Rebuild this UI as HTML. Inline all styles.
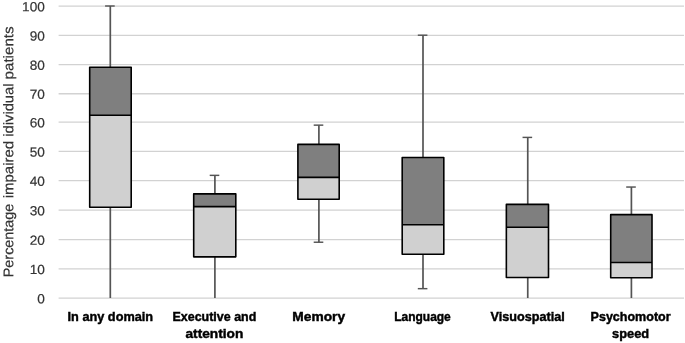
<!DOCTYPE html>
<html lang="en"><head><meta charset="utf-8"><title>Percentage impaired individual patients</title>
<style>html,body{margin:0;padding:0;background:#fff;}body{width:685px;height:343px;overflow:hidden;}svg{display:block;}text{font-family:"Liberation Sans",Arial,sans-serif;}.tick{font-size:13.2px;fill:#333;stroke:#333;stroke-width:0.2px;}.ttl{font-size:14px;fill:#333;stroke:#333;stroke-width:0.2px;}.cat{font-size:13.3px;font-weight:bold;fill:#000;stroke:#000;stroke-width:0.45px;}</style></head><body>
<svg width="685" height="343" viewBox="0 0 685 343">
<rect width="685" height="343" fill="#ffffff"/>
<g stroke="#d2d2d2" stroke-width="1.3">
<line x1="58.6" y1="298.1" x2="684" y2="298.1"/>
<line x1="58.6" y1="268.95" x2="684" y2="268.95"/>
<line x1="58.6" y1="239.55" x2="684" y2="239.55"/>
<line x1="58.6" y1="210.1" x2="684" y2="210.1"/>
<line x1="58.6" y1="180.7" x2="684" y2="180.7"/>
<line x1="58.6" y1="151.45" x2="684" y2="151.45"/>
<line x1="58.6" y1="122.2" x2="684" y2="122.2"/>
<line x1="58.6" y1="93.75" x2="684" y2="93.75"/>
<line x1="58.6" y1="64.6" x2="684" y2="64.6"/>
<line x1="58.6" y1="35.45" x2="684" y2="35.45"/>
<line x1="58.6" y1="6.05" x2="684" y2="6.05"/>
</g>
<g class="tick">
<text x="37.27" y="303.2" transform="rotate(0.03 37.27 303.2)" textLength="7.58" lengthAdjust="spacingAndGlyphs">0</text>
<text x="29.69" y="274.05" transform="rotate(0.03 29.69 274.05)" textLength="15.16" lengthAdjust="spacingAndGlyphs">10</text>
<text x="29.69" y="244.65" transform="rotate(0.03 29.69 244.65)" textLength="15.16" lengthAdjust="spacingAndGlyphs">20</text>
<text x="29.69" y="215.2" transform="rotate(0.03 29.69 215.2)" textLength="15.16" lengthAdjust="spacingAndGlyphs">30</text>
<text x="29.69" y="185.8" transform="rotate(0.03 29.69 185.8)" textLength="15.16" lengthAdjust="spacingAndGlyphs">40</text>
<text x="29.69" y="156.55" transform="rotate(0.03 29.69 156.55)" textLength="15.16" lengthAdjust="spacingAndGlyphs">50</text>
<text x="29.69" y="127.3" transform="rotate(0.03 29.69 127.3)" textLength="15.16" lengthAdjust="spacingAndGlyphs">60</text>
<text x="29.69" y="98.85" transform="rotate(0.03 29.69 98.85)" textLength="15.16" lengthAdjust="spacingAndGlyphs">70</text>
<text x="29.69" y="69.7" transform="rotate(0.03 29.69 69.7)" textLength="15.16" lengthAdjust="spacingAndGlyphs">80</text>
<text x="29.69" y="40.55" transform="rotate(0.03 29.69 40.55)" textLength="15.16" lengthAdjust="spacingAndGlyphs">90</text>
<text x="22.11" y="11.15" transform="rotate(0.03 22.11 11.15)" textLength="22.74" lengthAdjust="spacingAndGlyphs">100</text>
</g>
<text class="ttl" transform="translate(13.2 276.2) rotate(-89.97)"><tspan x="-1.05" textLength="73.6" lengthAdjust="spacingAndGlyphs">Percentage</tspan> <tspan x="77.95" textLength="57.45" lengthAdjust="spacingAndGlyphs">impaired</tspan> <tspan x="139.55" textLength="53.1" lengthAdjust="spacingAndGlyphs">idividual</tspan> <tspan x="196.75" textLength="53.05" lengthAdjust="spacingAndGlyphs">patients</tspan></text>
<g>
<g stroke="#545454" stroke-width="1.7" fill="none">
<line x1="110.3" y1="6" x2="110.3" y2="67.32"/>
<line x1="110.3" y1="207.19" x2="110.3" y2="298"/>
<line stroke-width="1.45" x1="105.1" y1="6" x2="114.7" y2="6"/>
</g>
<rect x="89.7" y="67.32" width="41.5" height="47.89" fill="#7f7f7f"/>
<rect x="89.7" y="115.21" width="41.5" height="91.98" fill="#d0d0d0"/>
<line x1="89.7" y1="115.21" x2="131.2" y2="115.21" stroke="#000" stroke-width="1.6"/>
<rect x="89.7" y="67.32" width="41.5" height="139.87" fill="none" stroke="#000" stroke-width="1.6" stroke-linejoin="round"/>
</g>
<g>
<g stroke="#545454" stroke-width="1.7" fill="none">
<line x1="214.9" y1="175.36" x2="214.9" y2="193.9"/>
<line x1="214.9" y1="256.83" x2="214.9" y2="298"/>
<line stroke-width="1.45" x1="209.7" y1="175.36" x2="219.3" y2="175.36"/>
</g>
<rect x="193.7" y="193.9" width="42.1" height="12.7" fill="#7f7f7f"/>
<rect x="193.7" y="206.6" width="42.1" height="50.22" fill="#d0d0d0"/>
<line x1="193.7" y1="206.6" x2="235.8" y2="206.6" stroke="#000" stroke-width="1.6"/>
<rect x="193.7" y="193.9" width="42.1" height="62.93" fill="none" stroke="#000" stroke-width="1.6" stroke-linejoin="round"/>
</g>
<g>
<g stroke="#545454" stroke-width="1.7" fill="none">
<line x1="318.9" y1="125.14" x2="318.9" y2="144.41"/>
<line x1="318.9" y1="199.3" x2="318.9" y2="242.23"/>
<line stroke-width="1.45" x1="313.7" y1="125.14" x2="323.3" y2="125.14"/>
<line stroke-width="1.45" x1="313.7" y1="242.23" x2="323.3" y2="242.23"/>
</g>
<rect x="297.9" y="144.41" width="41.3" height="33" fill="#7f7f7f"/>
<rect x="297.9" y="177.4" width="41.3" height="21.9" fill="#d0d0d0"/>
<line x1="297.9" y1="177.4" x2="339.2" y2="177.4" stroke="#000" stroke-width="1.6"/>
<rect x="297.9" y="144.41" width="41.3" height="54.9" fill="none" stroke="#000" stroke-width="1.6" stroke-linejoin="round"/>
</g>
<g>
<g stroke="#545454" stroke-width="1.7" fill="none">
<line x1="423" y1="35.2" x2="423" y2="157.55"/>
<line x1="423" y1="254.2" x2="423" y2="288.66"/>
<line stroke-width="1.45" x1="417.8" y1="35.2" x2="427.4" y2="35.2"/>
<line stroke-width="1.45" x1="417.8" y1="288.66" x2="427.4" y2="288.66"/>
</g>
<rect x="402.2" y="157.55" width="41.6" height="67.16" fill="#7f7f7f"/>
<rect x="402.2" y="224.71" width="41.6" height="29.49" fill="#d0d0d0"/>
<line x1="402.2" y1="224.71" x2="443.8" y2="224.71" stroke="#000" stroke-width="1.6"/>
<rect x="402.2" y="157.55" width="41.6" height="96.65" fill="none" stroke="#000" stroke-width="1.6" stroke-linejoin="round"/>
</g>
<g>
<g stroke="#545454" stroke-width="1.7" fill="none">
<line x1="527.75" y1="137.4" x2="527.75" y2="204.41"/>
<line x1="527.75" y1="277.56" x2="527.75" y2="298"/>
<line stroke-width="1.45" x1="522.55" y1="137.4" x2="532.15" y2="137.4"/>
</g>
<rect x="506.35" y="204.41" width="42.15" height="22.78" fill="#7f7f7f"/>
<rect x="506.35" y="227.19" width="42.15" height="50.37" fill="#d0d0d0"/>
<line x1="506.35" y1="227.19" x2="548.5" y2="227.19" stroke="#000" stroke-width="1.6"/>
<rect x="506.35" y="204.41" width="42.15" height="73.15" fill="none" stroke="#000" stroke-width="1.6" stroke-linejoin="round"/>
</g>
<g>
<g stroke="#545454" stroke-width="1.7" fill="none">
<line x1="631.4" y1="187.04" x2="631.4" y2="214.63"/>
<line x1="631.4" y1="277.71" x2="631.4" y2="298"/>
<line stroke-width="1.45" x1="626.2" y1="187.04" x2="635.8" y2="187.04"/>
</g>
<rect x="610.7" y="214.63" width="41.3" height="47.89" fill="#7f7f7f"/>
<rect x="610.7" y="262.52" width="41.3" height="15.18" fill="#d0d0d0"/>
<line x1="610.7" y1="262.52" x2="652" y2="262.52" stroke="#000" stroke-width="1.6"/>
<rect x="610.7" y="214.63" width="41.3" height="63.07" fill="none" stroke="#000" stroke-width="1.6" stroke-linejoin="round"/>
</g>
<g class="cat">
<text x="67.55" y="321.35" textLength="85.6" lengthAdjust="spacingAndGlyphs">In any domain</text>
<text x="172.5" y="321.35" textLength="83.8" lengthAdjust="spacingAndGlyphs">Executive and</text>
<text x="185.5" y="338.45" textLength="57.8" lengthAdjust="spacingAndGlyphs">attention</text>
<text x="292.3" y="321.35" textLength="52.8" lengthAdjust="spacingAndGlyphs">Memory</text>
<text x="394.2" y="321.35" textLength="56.6" lengthAdjust="spacingAndGlyphs">Language</text>
<text x="490.5" y="321.35" textLength="74.2" lengthAdjust="spacingAndGlyphs">Visuospatial</text>
<text x="590.6" y="321.35" textLength="80" lengthAdjust="spacingAndGlyphs">Psychomotor</text>
<text x="612.05" y="338.45" textLength="37.1" lengthAdjust="spacingAndGlyphs">speed</text>
</g>
</svg></body></html>
